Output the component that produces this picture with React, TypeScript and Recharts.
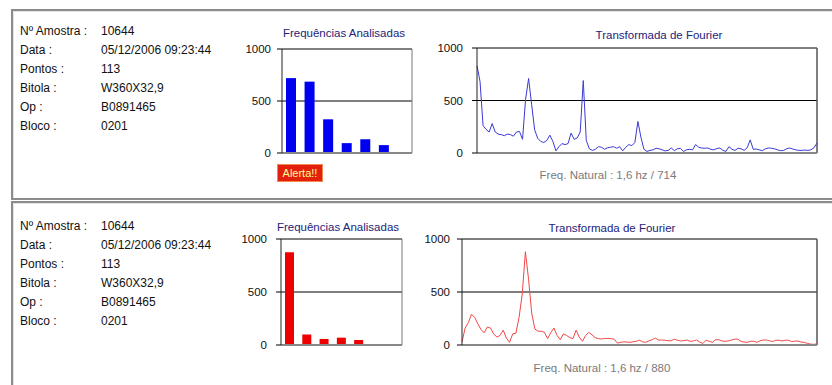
import React from "react";
import {
  BarChart,
  Bar,
  LineChart,
  Line,
  XAxis,
  YAxis,
  CartesianGrid,
} from "recharts";

const FONT = "'Liberation Sans', Arial, sans-serif";

const infoLabels = ["Nº Amostra :", "Data :", "Pontos :", "Bitola :", "Op :", "Bloco :"];
const infoTop = ["10644", "05/12/2006 09:23:44", "113", "W360X32,9", "B0891465", "0201"];
const infoBottom = ["10644", "05/12/2006 09:23:44", "113", "W360X32,9", "B0891465", "0201"];

const bandNames = ["1", "2", "3", "4", "5", "6", "7"];
const bandsTop = [720, 686, 324, 95, 133, 76, 0];
const bandsBottom = [874, 100, 57, 69, 47, 4, 4];

const yTicks = [0, 500, 1000];

const fftTop = [
  830, 680, 260, 225, 200, 280, 200, 180, 175, 165,
  180, 175, 160, 200, 205, 130, 510, 710, 460, 220,
  140, 110, 100, 120, 170, 110, 20, 60, 90, 80,
  90, 190, 130, 143, 200, 690, 120, 40, 25, 35,
  60, 55, 35, 50, 55, 60, 45, 60, 20, 55,
  80, 70, 100, 300, 150, 35, 15, 25, 30, 45,
  40, 30, 20, 25, 48, 22, 40, 45, 15, 30,
  35, 30, 80, 55, 48, 45, 48, 35, 30, 42,
  48, 25, 15, 60, 35, 25, 45, 40, 25, 50,
  125, 35, 38, 30, 22, 40, 48, 45, 40, 30,
  22, 25, 40, 48, 38, 30, 25, 25, 28, 25,
  30, 50, 95,
];

const fftBottom = [
  30, 160, 210, 290, 260, 200, 145, 115, 170, 160,
  105, 75, 90, 140, 65, 25, 105, 110, 260, 480,
  880, 620, 300, 150, 130, 130, 120, 60, 115, 160,
  90, 50, 105, 90, 70, 60, 140, 75, 35, 90,
  120, 95, 70, 60, 57, 62, 62, 60, 55, 18,
  25, 30, 28, 25, 30, 35, 45, 30, 25, 40,
  50, 65, 47, 47, 45, 40, 40, 55, 45, 38,
  42, 47, 35, 38, 47, 28, 15, 45, 35, 25,
  50, 50, 38, 35, 38, 47, 55, 55, 35, 28,
  25, 35, 35, 25, 38, 47, 47, 40, 32, 45,
  45, 38, 45, 45, 32, 36, 38, 28, 25, 15,
  8, 6, 10,
];

const footerTop = "Freq. Natural : 1,6 hz / 714";
const footerBottom = "Freq. Natural : 1,6 hz / 880";

const tickStyle = { fill: "#111", fontSize: 11.5, fontFamily: FONT };

// right edge of the plot box, taken from the chart's own offset
const rightEdge = ({ offset }: any) => [offset.left + offset.width];

function Info({ top, values }: { top: number; values: string[] }) {
  return (
    <div style={{ position: "absolute", left: 20, top, fontSize: 12, color: "#111" }}>
      {infoLabels.map((l, i) => (
        <div key={l} style={{ height: 19, lineHeight: "19px", position: "relative" }}>
          <span>{l}</span>
          <span style={{ position: "absolute", left: 81, whiteSpace: "nowrap" }}>{values[i]}</span>
        </div>
      ))}
    </div>
  );
}

function Caption({ x, y, text, color }: { x: number; y: number; text: string; color: string }) {
  return (
    <div
      style={{
        position: "absolute",
        left: x - 100,
        top: y - 7,
        width: 200,
        textAlign: "center",
        fontSize: 11.5,
        lineHeight: "14px",
        color,
        whiteSpace: "nowrap",
      }}
    >
      {text}
    </div>
  );
}

function Bands({
  values, color, width, height, yWidth, right, tickMargin, barSize,
}: {
  values: number[]; color: string; width: number; height: number; yWidth: number;
  right: number; tickMargin: number; barSize: number;
}) {
  const data = bandNames.map((n, i) => ({ name: n, v: values[i] }));
  return (
    <BarChart width={width} height={height} data={data} margin={{ top: 10, right, bottom: 0, left: 0 }}>
      <CartesianGrid vertical={false} stroke="#000" />
      <CartesianGrid horizontal={false} verticalCoordinatesGenerator={rightEdge} stroke="#777" />
      <XAxis dataKey="name" tick={false} tickLine={false} height={12} axisLine={{ stroke: "#888", strokeWidth: 2 }} />
      <YAxis
        domain={[0, 1000]}
        ticks={yTicks}
        width={yWidth}
        tick={tickStyle}
        tickSize={5}
        tickMargin={tickMargin}
        tickLine={{ stroke: "#000" }}
        axisLine={{ stroke: "#222" }}
      />
      <Bar dataKey="v" fill={color} barSize={barSize} isAnimationActive={false} />
    </BarChart>
  );
}

function Spectrum({
  values, color, width, height, yWidth, tickMargin,
}: {
  values: number[]; color: string; width: number; height: number; yWidth: number; tickMargin: number;
}) {
  const data = values.map((v, i) => ({ i, v }));
  return (
    <LineChart width={width} height={height} data={data} margin={{ top: 10, right: 15, bottom: 0, left: 0 }}>
      <CartesianGrid vertical={false} stroke="#000" />
      <CartesianGrid horizontal={false} verticalCoordinatesGenerator={rightEdge} stroke="#555" strokeWidth={1.5} />
      <XAxis dataKey="i" tick={false} tickLine={false} height={12} axisLine={{ stroke: "#888", strokeWidth: 2 }} />
      <YAxis
        domain={[0, 1000]}
        ticks={yTicks}
        width={yWidth}
        tick={tickStyle}
        tickSize={5}
        tickMargin={tickMargin}
        tickLine={{ stroke: "#000" }}
        axisLine={{ stroke: "#222" }}
      />
      <Line type="linear" dataKey="v" stroke={color} strokeWidth={1} dot={false} isAnimationActive={false} />
    </LineChart>
  );
}

const panelStyle: React.CSSProperties = {
  position: "absolute",
  left: 11,
  width: 840,
  borderTop: "2px solid #8c8c8c",
  borderLeft: "2px solid #8c8c8c",
  borderBottom: "2px solid #8c8c8c",
  boxShadow: "inset 1px 1px 0 #e4e4e4",
};

export default function App() {
  return (
    <div
      style={{
        position: "absolute",
        left: 0,
        top: 0,
        width: 832,
        height: 385,
        background: "#fff",
        overflow: "hidden",
        fontFamily: FONT,
      }}
    >
      <div style={{ ...panelStyle, top: 9, height: 187 }} />
      <div style={{ ...panelStyle, top: 201, height: 200, borderBottom: "none" }} />

      <Info top={22} values={infoTop} />
      <Info top={217} values={infoBottom} />

      <Caption x={344} y={33} text="Frequências Analisadas" color="#23237a" />
      <Caption x={659} y={35} text="Transformada de Fourier" color="#23237a" />
      <Caption x={338} y={227} text="Frequências Analisadas" color="#23237a" />
      <Caption x={612} y={228} text="Transformada de Fourier" color="#23237a" />
      <Caption x={608} y={175} text={footerTop} color="#7a7a7a" />
      <Caption x={602} y={368} text={footerBottom} color="#7a7a7a" />

      <div style={{ position: "absolute", left: 240, top: 39 }}>
        <Bands values={bandsTop} color="#0000f0" width={180} height={126} yWidth={42} right={8} tickMargin={6} barSize={10} />
      </div>
      <div style={{ position: "absolute", left: 420, top: 38 }}>
        <Spectrum values={fftTop} color="#3a3ad6" width={412} height={127} yWidth={57} tickMargin={9} />
      </div>
      <div style={{ position: "absolute", left: 240, top: 229 }}>
        <Bands values={bandsBottom} color="#ee0000" width={170} height={128} yWidth={41} right={8} tickMargin={9} barSize={9} />
      </div>
      <div style={{ position: "absolute", left: 410, top: 229 }}>
        <Spectrum values={fftBottom} color="#f04848" width={422} height={128} yWidth={52} tickMargin={7} />
      </div>

      <div
        style={{
          position: "absolute",
          left: 277,
          top: 164,
          width: 46,
          height: 18,
          boxSizing: "border-box",
          background: "#e2200c",
          border: "1px solid #f08a50",
          color: "#ffff90",
          fontSize: 11,
          lineHeight: "16px",
          textAlign: "center",
        }}
      >
        Alerta!!
      </div>
    </div>
  );
}
